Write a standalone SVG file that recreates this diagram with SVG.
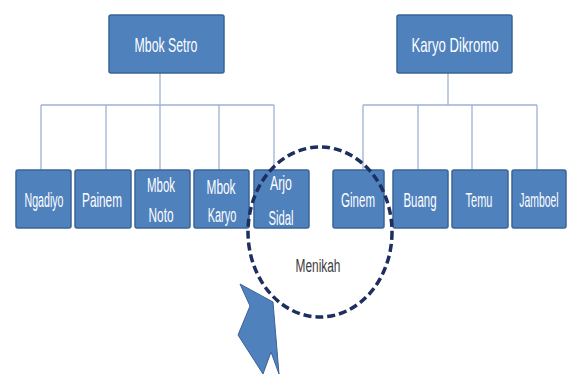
<svg xmlns="http://www.w3.org/2000/svg" width="568" height="374" viewBox="0 0 568 374">
<style>
.box{fill:#4f81bd;stroke:#3b6496;stroke-width:1.5}
.t{fill:#ffffff;font-family:"Liberation Sans",Arial,sans-serif;font-size:20px;text-anchor:middle}
.ln{stroke:#9fb1d3;stroke-width:1.3;fill:none}
</style>
<rect width="568" height="374" fill="#ffffff"/>
<g id="connectors">
<path class="ln" d="M160 73V105M41 105H274M41 105V170M106 105V170M160 105V170M219 105V170M274 105V170"/>
<path class="ln" d="M448 73V105M363 105H537M363 105V170M418 105V170M472 105V170M537 105V170"/>
</g>
<g id="mbok-setro"><rect class="box" x="109" y="15" width="115" height="58" rx="2"/><text class="t" transform="translate(166,52) scale(0.616,1)">Mbok Setro</text></g>
<g id="karyo-dikromo"><rect class="box" x="397" y="15" width="115" height="58" rx="2"/><text class="t" transform="translate(455,52) scale(0.658,1)">Karyo Dikromo</text></g>
<g id="ngadiyo"><rect class="box" x="16" y="170" width="55" height="58" rx="2"/><text class="t" transform="translate(44,207) scale(0.53,1)">Ngadiyo</text></g>
<g id="painem"><rect class="box" x="75" y="170" width="56" height="58" rx="2"/><text class="t" transform="translate(102,207) scale(0.59,1)">Painem</text></g>
<g id="mbok-noto"><rect class="box" x="135" y="170" width="55" height="58" rx="2"/><text class="t" transform="translate(161,192) scale(0.573,1)">Mbok</text><text class="t" transform="translate(161,222) scale(0.592,1)">Noto</text></g>
<g id="mbok-karyo"><rect class="box" x="194" y="170" width="55" height="58" rx="2"/><text class="t" transform="translate(221,194) scale(0.593,1)">Mbok</text><text class="t" transform="translate(222,222) scale(0.55,1)">Karyo</text></g>
<g id="arjo-sidal"><rect class="box" x="254" y="170" width="55" height="58" rx="2"/><text class="t" transform="translate(281,190) scale(0.618,1)">Arjo</text><text class="t" transform="translate(281,225) scale(0.562,1)">Sidal</text></g>
<g id="ginem"><rect class="box" x="333" y="170" width="51" height="58" rx="2"/><text class="t" transform="translate(358,207) scale(0.577,1)">Ginem</text></g>
<g id="buang"><rect class="box" x="393" y="170" width="55" height="58" rx="2"/><text class="t" transform="translate(420,207) scale(0.571,1)">Buang</text></g>
<g id="temu"><rect class="box" x="452" y="170" width="56" height="58" rx="2"/><text class="t" transform="translate(479,207) scale(0.548,1)">Temu</text></g>
<g id="jamboel"><rect class="box" x="512" y="170" width="54" height="58" rx="2"/><text class="t" transform="translate(539,207) scale(0.52,1)">Jamboel</text></g>
<g id="menikah">
<ellipse cx="320" cy="232" rx="72" ry="85" fill="none" stroke="#1c2f5e" stroke-width="3.5" stroke-dasharray="8 4"/>
<text transform="translate(318,272) scale(0.66,1)" font-family="'Liberation Sans',Arial,sans-serif" font-size="18" fill="#404040" text-anchor="middle">Menikah</text>
</g>
<g id="arrow"><polygon points="240,284 273,302 279,374 271,352 263,374 238,335 250,306" fill="#4f81bd" stroke="#3b6496" stroke-width="1"/></g>
</svg>
